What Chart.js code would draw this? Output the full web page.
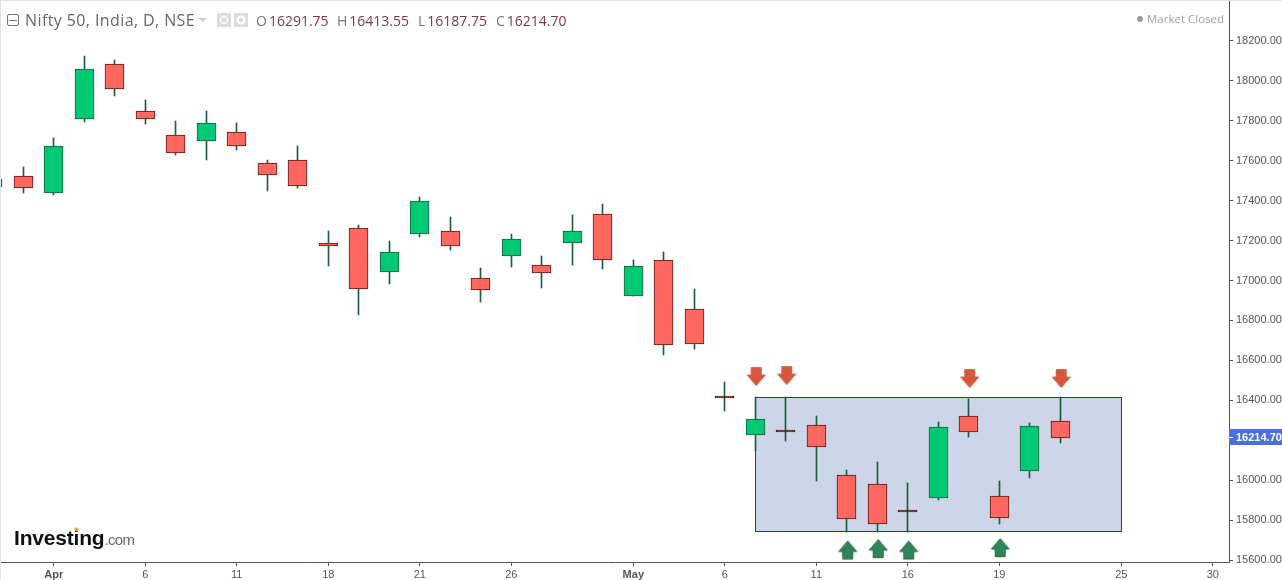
<!DOCTYPE html>
<html>
<head>
<meta charset="utf-8">
<title>Nifty 50</title>
<script src="https://cdn.jsdelivr.net/npm/chart.js@4"></script>
<style>
html, body { margin: 0; padding: 0; background: #fff; overflow: hidden; }
#wrap { position: relative; width: 1282px; height: 580px; overflow: hidden; }
#myChart { position: absolute; left: 0; top: 0; }
#wrap span, #wrap i, #wrap svg { position: absolute; white-space: nowrap; font-style: normal; }
.edgeT { left: 0; top: 0; width: 1282px; height: 1px; background: #dfe3e8; }
.edgeL { left: 0; top: 0; width: 1px; height: 580px; background: #dfe3e8; }
.hd { top: 9px; font: 16px/22px "Open Sans", sans-serif; letter-spacing: 0.4px; color: #666; }
.ohlc { top: 11px; font: 14px/20px "Open Sans", sans-serif; color: #777; }
.ohlc b { font-weight: 400; color: #7a3b3b; }
.closed { left: 1147px; top: 11px; font: 11.5px/16px "Open Sans", sans-serif; color: #a0a0a0; }
.logo { left: 14px; top: 524px; font: 700 21px/28px "Liberation Sans", sans-serif; letter-spacing: -0.2px; color: #111; }
.logo em { font: 400 15px/28px "Liberation Sans", sans-serif; letter-spacing: -0.6px; color: #666; }
</style>
</head>
<body>
<div id="wrap">
    <canvas id="myChart" width="1282" height="580"></canvas>
    <i class="edgeT"></i><i class="edgeL"></i>
    <svg style="left:7px;top:14px" width="12" height="12"><rect x="0.5" y="0.5" width="11" height="11" rx="1.5" fill="none" stroke="#777"/><path d="M2 6.5H10" stroke="#777"/></svg>
    <span class="hd" style="left:25px">Nifty 50, India, D, NSE</span>
    <svg style="left:199px;top:18px" width="8" height="5"><path d="M0 0H8L4 4Z" fill="#c9c9c9"/></svg>
    <svg style="left:217px;top:13px" width="32" height="14">
        <rect width="14" height="14" fill="#dcdcdc"/><rect x="17" width="14" height="14" fill="#dcdcdc"/>
        <circle cx="7" cy="7" r="3.6" fill="none" stroke="#fff" stroke-width="1.6"/>
        <circle cx="24" cy="7" r="3.4" fill="none" stroke="#fff" stroke-width="2.4"/>
    </svg>
    <span class="ohlc" style="left:256px">O<b style="margin-left:2px">16291.75</b></span>
    <span class="ohlc" style="left:337px">H<b style="margin-left:2px">16413.55</b></span>
    <span class="ohlc" style="left:418px">L<b style="margin-left:2px">16187.75</b></span>
    <span class="ohlc" style="left:496px">C<b style="margin-left:2px">16214.70</b></span>
    <svg style="left:1136px;top:15px" width="8" height="8"><circle cx="4" cy="4" r="3" fill="#9a9a9a"/></svg>
    <span class="closed">Market Closed</span>
    <span class="logo">Investing<em>.com</em></span>
    <svg style="left:74px;top:527px" width="5" height="5"><circle cx="2.5" cy="2.5" r="2" fill="#f7a11a"/></svg>
</div>
<script>
// candles, x is the bar number
var barIndex = [-1, 0, 1, 2, 3, 4, 5, 6, 7, 8, 9, 10, 11, 12, 13, 14, 15, 16, 17, 18, 19, 20, 21, 22, 23, 24, 25, 26, 27, 28, 29, 30, 31, 32, 33, 34];
var opens =  [17470, 17522, 17442, 17813, 18083, 17848, 17728, 17703, 17743, 17587, 17602, 17186, 17262, 17046, 17237, 17247, 17011, 17126, 17076, 17191, 17332, 16926, 17101, 16856, 16419, 16230, 16249, 16275, 16024, 15979, 15848, 15914, 16320, 15919, 16049, 16291.75];
var highs =  [17520, 17564, 17709, 18120, 18100, 17904, 17794, 17849, 17784, 17599, 17669, 17243, 17278, 17193, 17418, 17318, 17058, 17228, 17118, 17328, 17383, 17098, 17138, 16953, 16487, 16415, 16415, 16321, 16046, 16086, 15981, 16291, 16406, 15991, 16286, 16413.55];
var lows =   [17450, 17440, 17430, 17796, 17926, 17786, 17630, 17605, 17655, 17450, 17465, 17074, 16829, 16984, 17220, 17154, 16894, 17069, 16964, 17079, 17059, 16924, 16628, 16658, 16348, 16147, 16201, 15997, 15744, 15744, 15744, 15905, 16218, 15782, 16012, 16187.75];
var closes = [17505, 17467, 17672, 18058, 17963, 17813, 17640, 17788, 17677, 17532, 17477, 17176, 16961, 17141, 17397, 17176, 16956, 17207, 17041, 17247, 17106, 17071, 16680, 16685, 16417, 16305, 16247, 16169, 15809, 15784, 15846, 16265, 16245, 15814, 16270, 16214.70];

// axis labels
var xTickIndex = [1, 4, 7, 10, 13, 16, 20, 23, 26, 29, 32, 36, 39];
var xTickLabels = ["Apr", "6", "11", "18", "21", "26", "May", "6", "11", "16", "19", "25", "30"];
var yTickValues = [15600, 15800, 16000, 16200, 16400, 16600, 16800, 17000, 17200, 17400, 17600, 17800, 18000, 18200];

// marked range and arrows
var rangeX = [24, 36];
var rangeY = [15744, 16415];
var downX = [24.03, 25.03, 31.03, 34.03];
var downY = [16519, 16524, 16509, 16509];
var upX = [27.03, 28.03, 29.03, 32.03];
var upY = [15650, 15657, 15650, 15662];
var lastPrice = 16214.70;

var isFlat = function (i) { return Math.abs(opens[i] - closes[i]) < 5; }
var isUp = function (i) { return closes[i] > opens[i]; }

makeArrow = function (fill, edge, down) {
    var c = document.createElement("canvas");
    c.width = 21;
    c.height = 21;
    var g = c.getContext("2d");
    if (down) { g.translate(0, 21); g.scale(1, -1); }
    g.shadowColor = "rgba(0,0,0,0.25)";
    g.shadowBlur = 1;
    g.beginPath();
    g.moveTo(10.5, 1.5); g.lineTo(19.5, 12); g.lineTo(15.5, 12); g.lineTo(15.5, 19.5);
    g.lineTo(5.5, 19.5); g.lineTo(5.5, 12); g.lineTo(1.5, 12); g.closePath();
    g.fillStyle = fill;
    g.fill();
    g.shadowBlur = 0;
    g.strokeStyle = edge;
    g.lineWidth = 1;
    g.stroke();
    return c;
}

// axes take no extra room for half labels, the plot fills the frame
clearPadding = function (axis) {
    axis.paddingLeft = 0;
    axis.paddingRight = 0;
    axis.paddingTop = 0;
    axis.paddingBottom = 0;
}

var wicks = barIndex.map(function (x, i) { return { x: x, y: [lows[i], highs[i]] }; });
var bodies = barIndex.map(function (x, i) { return { x: x, y: [opens[i], closes[i]] }; });
var downPoints = downX.map(function (x, i) { return { x: x, y: downY[i] }; });
var upPoints = upX.map(function (x, i) { return { x: x, y: upY[i] }; });

// the range box goes under the candles, the pixels snap so edges stay sharp
var extras = {
    id: "extras",
    afterDatasetsUpdate: function (chart) {
        [0, 1].forEach(function (n) {
            chart.getDatasetMeta(n).data.forEach(function (bar) {
                var top = Math.min(bar.y, bar.base);
                var bottom = Math.max(bar.y, bar.base);
                bar.x = Math.floor(bar.x) + 0.5;
                bar.y = Math.floor(top);
                bar.base = Math.floor(bottom) + 1;
                // flat candles still show as a 2px dash
                if (n == 1 && bar.base - bar.y < 2) bar.base = bar.y + 2;
            });
        });
    },
    beforeDatasetsDraw: function (chart) {
        var g = chart.ctx, xs = chart.scales.x, ys = chart.scales.y;
        var left = Math.floor(xs.getPixelForValue(rangeX[0])) + 0.5;
        var right = Math.floor(xs.getPixelForValue(rangeX[1])) + 0.5;
        var top = Math.floor(ys.getPixelForValue(rangeY[1])) + 0.5;
        var bottom = Math.floor(ys.getPixelForValue(rangeY[0])) + 0.5;
        g.save();
        g.fillStyle = "#cdd5e8";
        g.strokeStyle = "#1c3a8a";
        g.lineWidth = 1;
        g.fillRect(left, top, right - left, bottom - top);
        g.strokeRect(left, top, right - left, bottom - top);
        g.restore();
    },
    afterDraw: function (chart) {
        var g = chart.ctx, ys = chart.scales.y, area = chart.chartArea;
        var y = Math.round(ys.getPixelForValue(lastPrice));
        g.save();
        // the lowest price label is cut by the bottom line
        g.fillStyle = "#fff";
        g.fillRect(area.right + 1, area.bottom + 1, 60, 20);
        g.fillStyle = "#4a6fe3";
        g.fillRect(area.right, y - 8, 54, 16);
        g.fillStyle = "#fff";
        g.fillRect(area.right, y, 4, 1);
        g.font = "bold 11px 'Liberation Sans', sans-serif";
        g.textBaseline = "middle";
        g.fillText(lastPrice.toFixed(2), area.right + 7, y + 0.5);
        g.restore();
    }
};

new Chart("myChart", {
    data: {
        datasets: [
            {
                type: "bar",
                order: 2,
                data: wicks,
                barThickness: 1,
                grouped: false,
                backgroundColor: "#1b5e3d"
            },
            {
                type: "bar",
                order: 1,
                data: bodies,
                barThickness: 19,
                grouped: false,
                borderWidth: 1,
                borderSkipped: false,
                backgroundColor: barIndex.map(function (x, i) {
                    if (isFlat(i)) return "#5b1a13";
                    return isUp(i) ? "#00c973" : "#ff6860";
                }),
                borderColor: barIndex.map(function (x, i) {
                    if (isFlat(i)) return "#5b1a13";
                    return isUp(i) ? "#1b5e3d" : "#5b1a13";
                })
            },
            {
                type: "scatter",
                order: 0,
                data: downPoints,
                pointStyle: makeArrow("#d9553b", "#c9694f", true),
                pointRadius: 10
            },
            {
                type: "scatter",
                order: 0,
                data: upPoints,
                pointStyle: makeArrow("#2f8558", "#2a6f4c", false),
                pointRadius: 10
            }
        ]
    },
    options: {
        responsive: false,
        animation: false,
        layout: { autoPadding: false, padding: { left: 1, top: 1, right: 0, bottom: 0 } },
        plugins: {
            legend: { display: false },
            tooltip: { enabled: false }
        },
        scales: {
            x: {
                type: "linear",
                offset: false,
                min: -0.73,
                max: 39.53,
                border: { color: "#555", width: 1 },
                grid: { offset: false, drawOnChartArea: false, tickLength: 4, tickColor: "#555" },
                afterBuildTicks: function (axis) {
                    axis.ticks = xTickIndex.map(function (v) { return { value: v }; });
                },
                afterFit: function (axis) {
                    axis.height = 18;
                    clearPadding(axis);
                },
                ticks: {
                    autoSkip: false,
                    maxRotation: 0,
                    padding: 2,
                    color: "#555",
                    font: function (ctx) {
                        var name = ctx.tick ? xTickLabels[xTickIndex.indexOf(ctx.tick.value)] : "";
                        return { family: "'Liberation Sans', sans-serif", size: 11, weight: (name == "Apr" || name == "May") ? "bold" : "normal" };
                    },
                    callback: function (value) { return xTickLabels[xTickIndex.indexOf(value)]; }
                }
            },
            y: {
                position: "right",
                min: 15590,
                max: 18400,
                border: { color: "#555", width: 1 },
                grid: { drawOnChartArea: false, tickLength: 4, tickColor: "#555" },
                afterBuildTicks: function (axis) {
                    axis.ticks = yTickValues.map(function (v) { return { value: v }; });
                },
                afterFit: function (axis) {
                    axis.width = 53;
                    clearPadding(axis);
                },
                ticks: {
                    autoSkip: false,
                    padding: 3,
                    color: "#555",
                    font: { family: "'Liberation Sans', sans-serif", size: 11 },
                    callback: function (value) { return value.toFixed(2); }
                }
            }
        }
    },
    plugins: [extras]
});
</script>
</body>
</html>
